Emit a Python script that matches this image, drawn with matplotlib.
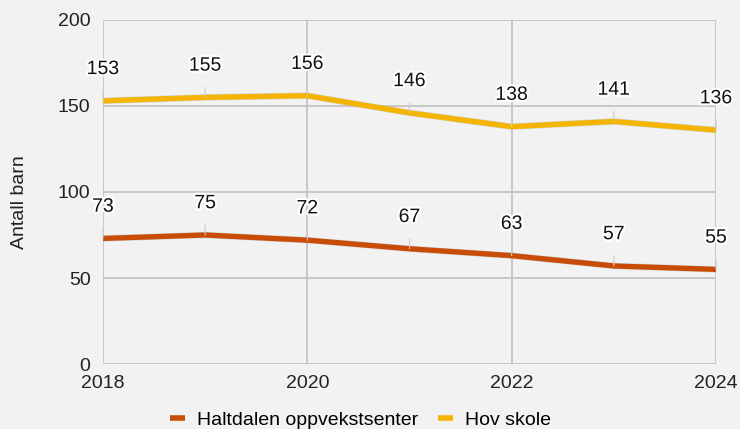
import matplotlib.pyplot as plt
import matplotlib.patheffects as pe

plt.rcParams['font.family'] = ['Liberation Sans', 'DejaVu Sans']

aar = [2018, 2019, 2020, 2021, 2022, 2023, 2024]
haltdalen = [73, 75, 72, 67, 63, 57, 55]
hov = [153, 155, 156, 146, 138, 141, 136]

bg = '#f2f2f2'
fig = plt.figure(figsize=(7.4, 4.29), dpi=100, facecolor=bg)
ax = fig.add_axes([0.1392, 0.1515, 0.8284, 0.8019], facecolor=bg)

farger = {'Haltdalen oppvekstsenter': '#c94c06', 'Hov skole': '#f5b400'}
serier = {'Haltdalen oppvekstsenter': haltdalen, 'Hov skole': hov}

halo = [pe.withStroke(linewidth=3, foreground='white')]
for navn, verdier in serier.items():
    ax.plot(aar, verdier, color=farger[navn], lw=3.8, solid_capstyle='butt',
            label=navn, zorder=3,
            path_effects=[pe.Stroke(linewidth=4.6, foreground='#b8b8b8', alpha=0.5), pe.Normal()])
    for x, y in zip(aar, verdier):
        # tynn strek fra etikett ned til punktet
        ax.annotate(str(y), xy=(x, y), xytext=(0, 22.5), textcoords='offset points',
                    ha='center', va='center', fontsize=14, color='#111111',
                    path_effects=halo, zorder=4,
                    arrowprops=dict(arrowstyle='-', color='#cccccc', lw=0.8,
                                    shrinkA=7, shrinkB=0))

ax.set_xlim(2018, 2024)
ax.set_ylim(0, 200)
ax.set_xticks([2018, 2020, 2022, 2024])
ax.set_yticks([0, 50, 100, 150, 200])
ax.grid(True, color='#c4c4c4', lw=1.3)
ax.set_axisbelow(True)
for s in ax.spines.values():
    s.set_visible(False)
ax.tick_params(length=0, labelsize=14, colors='#222222', pad=9)
ax.tick_params(axis='x', pad=8)
ax.set_ylabel('Antall barn', fontsize=14, color='#222222')
ax.yaxis.set_label_coords(-0.122, 0.47)

ax.legend(loc='center', bbox_to_anchor=(0.42, -0.163), ncol=2, frameon=False,
          fontsize=14, handlelength=0.8, handletextpad=0.6, columnspacing=1.0)
for linje in ax.get_legend().get_lines():
    linje.set_linewidth(4)
    linje.set_path_effects([])

fig.savefig('out.png', dpi=100, facecolor=bg)
